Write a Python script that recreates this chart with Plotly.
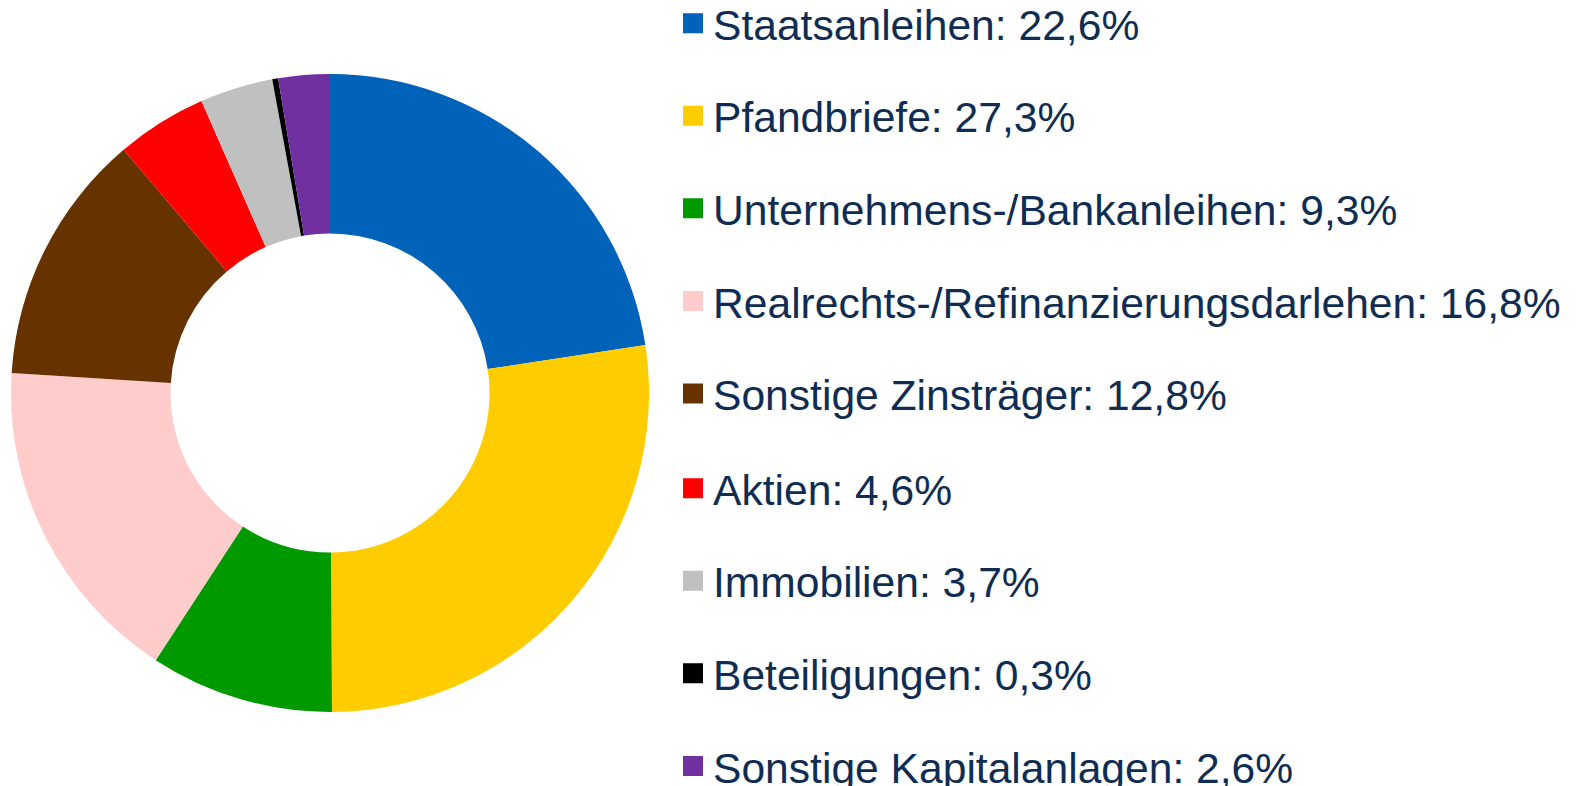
import plotly.graph_objects as go

categories = ["Staatsanleihen", "Pfandbriefe", "Unternehmens-/Bankanleihen",
              "Realrechts-/Refinanzierungsdarlehen", "Sonstige Zinsträger", "Aktien",
              "Immobilien", "Beteiligungen", "Sonstige Kapitalanlagen"]
values = [22.6, 27.3, 9.3, 16.8, 12.8, 4.6, 3.7, 0.3, 2.6]
value_labels = ["22,6%", "27,3%", "9,3%", "16,8%", "12,8%", "4,6%", "3,7%", "0,3%", "2,6%"]
colors = ["#0062B8", "#FFCC00", "#009900", "#FFCCCC", "#663300", "#FF0000",
          "#C0C0C0", "#000000", "#7030A0"]

W, H = 1579, 786
fig = go.Figure()
fig.add_trace(go.Pie(
    values=values, labels=categories, sort=False, direction="clockwise", rotation=0,
    hole=0.5, marker=dict(colors=colors, line=dict(width=0)),
    textinfo="none", hoverinfo="none", showlegend=False,
    domain=dict(x=[3 / W, 641 / W], y=[16 / H, 1]),
))
for i, (cat, lab, col) in enumerate(zip(categories, value_labels, colors)):
    fig.add_trace(go.Scatter(
        x=[None], y=[None], mode="markers", name=f"{cat}: {lab}",
        legendgroup=cat, legend="legend" if i < 5 else "legend2",
        marker=dict(symbol="square", size=16, color=col, line=dict(color=col, width=4)),
    ))

leg_common = dict(xanchor="left",
                  font=dict(family="Liberation Sans, Arial", size=42.6, color="#0F2D52"),
                  tracegroupgap=34.2, itemclick=False, itemdoubleclick=False,
                  bgcolor="rgba(0,0,0,0)")
fig.update_layout(
    width=W, height=H, margin=dict(l=0, r=0, t=0, b=0, autoexpand=False),
    paper_bgcolor="white", plot_bgcolor="white",
    xaxis=dict(visible=False), yaxis=dict(visible=False),
    legend=dict(x=665 / W, y=0.7449, yanchor="middle", **leg_common),
    legend2=dict(x=665 / W, y=0.4326, yanchor="top", **leg_common),
)
fig.write_html("out.html")
